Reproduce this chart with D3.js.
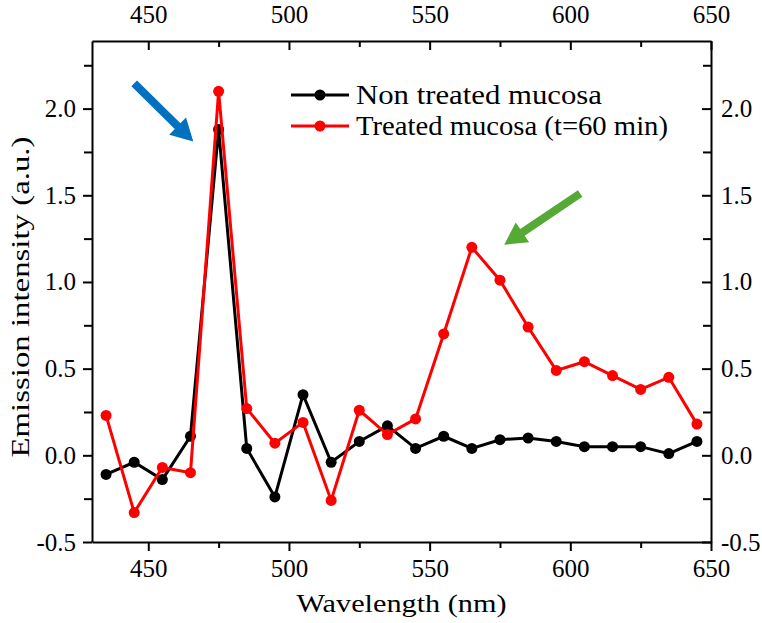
<!DOCTYPE html>
<html>
<head>
<meta charset="utf-8">
<script src="https://cdn.jsdelivr.net/npm/d3@7"></script>
<style>
body { margin: 0; background: #fff; }
text { font-family: "Liberation Serif", "Times New Roman", serif; fill: #000; }
</style>
</head>
<body>
<svg id="chart"></svg>
<script>
// data
var wavelength = [435, 445, 455, 465, 475, 485, 495, 505, 515, 525, 535,
                  545, 555, 565, 575, 585, 595, 605, 615, 625, 635, 645];
var nonTreated = [-0.11, -0.04, -0.14, 0.11, 1.88, 0.04, -0.24, 0.35, -0.04, 0.08, 0.17,
                  0.04, 0.11, 0.04, 0.09, 0.10, 0.08, 0.05, 0.05, 0.05, 0.01, 0.08];
var treated = [0.23, -0.33, -0.07, -0.10, 2.10, 0.27, 0.07, 0.19, -0.26, 0.26, 0.12,
               0.21, 0.70, 1.20, 1.01, 0.74, 0.49, 0.54, 0.46, 0.38, 0.45, 0.18];
var seriesNames = ["Non treated mucosa", "Treated mucosa (t=60 min)"];
var seriesColors = ["#000000", "#ff0000"];
var xTicks = [450, 500, 550, 600, 650];
var xMinor = [475, 525, 575, 625];
var yTicks = [-0.5, 0, 0.5, 1, 1.5, 2];
var yMinor = [-0.25, 0.25, 0.75, 1.25, 1.75, 2.25];
// arrows, in data units (wavelength, intensity)
var arrowFrom = [[445, 2.145], [603.5, 1.51]];
var arrowTo = [[466, 1.81], [576.5, 1.215]];
var arrowColors = ["#0070c0", "#55a935"];

var screen = {width: 762, height: 623};
var plot = {left: 92, right: 711, top: 41, bottom: 542};

var svg = d3.select("#chart")
    .attr("width", screen.width)
    .attr("height", screen.height);

var xScale = d3.scaleLinear().domain([430, 650]).range([plot.left, plot.right]);
var yScale = d3.scaleLinear().domain([-0.5, 2.39]).range([plot.bottom, plot.top]);

// plain hyphen for negatives, like the original
var yFormat = function(d) { return d.toFixed(1); };

var styleAxis = function(g) {
    g.selectAll("path.domain").attr("stroke", "#000").attr("stroke-width", 2);
    g.selectAll(".tick line").attr("stroke", "#000").attr("stroke-width", 2);
    g.selectAll(".tick text").attr("font-size", "25px")
        .attr("font-family", "Liberation Serif, serif").attr("fill", "#000");
};

var drawAxes = function() {
    // bottom
    svg.append("g").attr("transform", "translate(0," + plot.bottom + ")")
        .call(d3.axisBottom(xScale).tickValues(xTicks).tickSize(9).tickSizeOuter(0).tickPadding(8).tickFormat(d3.format("d")))
        .call(styleAxis);
    svg.append("g").attr("transform", "translate(0," + plot.bottom + ")")
        .call(d3.axisBottom(xScale).tickValues(xMinor).tickSize(6).tickFormat(""))
        .call(styleAxis).select(".domain").remove();
    // top
    svg.append("g").attr("transform", "translate(0," + plot.top + ")")
        .call(d3.axisTop(xScale).tickValues(xTicks).tickSize(-9).tickSizeOuter(0).tickPadding(18).tickFormat(d3.format("d")))
        .call(styleAxis);
    svg.append("g").attr("transform", "translate(0," + plot.top + ")")
        .call(d3.axisTop(xScale).tickValues(xMinor).tickSize(-6).tickFormat(""))
        .call(styleAxis).select(".domain").remove();
    // left
    svg.append("g").attr("transform", "translate(" + plot.left + ",0)")
        .call(d3.axisLeft(yScale).tickValues(yTicks).tickSize(9).tickSizeOuter(0).tickPadding(7).tickFormat(yFormat))
        .call(styleAxis);
    svg.append("g").attr("transform", "translate(" + plot.left + ",0)")
        .call(d3.axisLeft(yScale).tickValues(yMinor).tickSize(8).tickFormat(""))
        .call(styleAxis).select(".domain").remove();
    // right
    svg.append("g").attr("transform", "translate(" + plot.right + ",0)")
        .call(d3.axisRight(yScale).tickValues(yTicks).tickSize(-9).tickSizeOuter(0).tickPadding(10).tickFormat(yFormat))
        .call(styleAxis);
    svg.append("g").attr("transform", "translate(" + plot.right + ",0)")
        .call(d3.axisRight(yScale).tickValues(yMinor).tickSize(-8).tickFormat(""))
        .call(styleAxis).select(".domain").remove();

    svg.append("text")
        .attr("x", (plot.left + plot.right) / 2)
        .attr("y", 612)
        .attr("text-anchor", "middle")
        .attr("font-size", "25px")
        .attr("textLength", 210)
        .attr("lengthAdjust", "spacingAndGlyphs")
        .text("Wavelength (nm)");

    svg.append("text")
        .attr("transform", "translate(29,297) rotate(-90)")
        .attr("text-anchor", "middle")
        .attr("font-size", "25px")
        .attr("textLength", 321)
        .attr("lengthAdjust", "spacingAndGlyphs")
        .text("Emission intensity (a.u.)");
};

var drawSeries = function(values, color) {
    var pts = wavelength.map(function(w, i) { return {x: w, y: values[i]}; });
    var line = d3.line()
        .x(function(d) { return xScale(d.x); })
        .y(function(d) { return yScale(d.y); });
    var g = svg.append("g");
    g.append("path")
        .datum(pts)
        .attr("d", line)
        .attr("fill", "none")
        .attr("stroke", color)
        .attr("stroke-width", 3)
        .attr("stroke-linejoin", "miter");
    g.selectAll("circle")
        .data(pts)
        .enter()
        .append("circle")
        .attr("cx", function(d) { return xScale(d.x); })
        .attr("cy", function(d) { return yScale(d.y); })
        .attr("r", 5.5)
        .attr("fill", color);
};

var drawArrows = function() {
    arrowFrom.forEach(function(f, i) {
        var t = arrowTo[i];
        var x0 = xScale(f[0]), y0 = yScale(f[1]);
        var x1 = xScale(t[0]), y1 = yScale(t[1]);
        var len = Math.hypot(x1 - x0, y1 - y0);
        var ux = (x1 - x0) / len, uy = (y1 - y0) / len;
        var nx = -uy, ny = ux;
        var w = 4, L = 22, h = 12;
        var bx = x1 - ux * L, by = y1 - uy * L;
        var p = [
            [x0 + nx * w, y0 + ny * w],
            [bx + nx * w, by + ny * w],
            [bx + nx * h, by + ny * h],
            [x1, y1],
            [bx - nx * h, by - ny * h],
            [bx - nx * w, by - ny * w],
            [x0 - nx * w, y0 - ny * w]
        ];
        svg.append("polygon")
            .attr("points", p.map(function(q) { return q.join(","); }).join(" "))
            .attr("fill", arrowColors[i]);
    });
};

var drawLegend = function() {
    var legend = svg.append("g").attr("id", "legend");
    var rows = [95, 126];
    var textLengths = [246, 312];
    seriesNames.forEach(function(name, i) {
        var y = rows[i];
        legend.append("line")
            .attr("x1", 291).attr("x2", 349)
            .attr("y1", y).attr("y2", y)
            .attr("stroke", seriesColors[i])
            .attr("stroke-width", 3);
        legend.append("circle")
            .attr("cx", 320).attr("cy", y).attr("r", 5.5)
            .attr("fill", seriesColors[i]);
        legend.append("text")
            .attr("x", 356).attr("y", y + 9)
            .attr("font-size", "27px")
            .attr("textLength", textLengths[i])
            .attr("lengthAdjust", "spacingAndGlyphs")
            .text(name);
    });
};

drawAxes();
drawSeries(nonTreated, seriesColors[0]);
drawSeries(treated, seriesColors[1]);
drawArrows();
drawLegend();
</script>
</body>
</html>
